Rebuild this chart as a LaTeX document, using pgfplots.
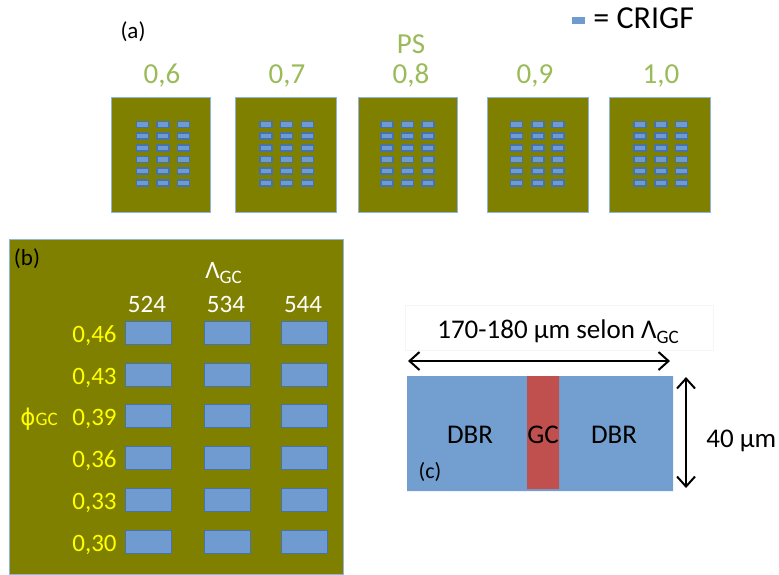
\documentclass[border=0pt]{standalone}
\usepackage{pgfplots}
\pgfplotsset{compat=1.18}
\usepackage{fontspec}
\setmainfont{Carlito}
\newfontfamily\djv{DejaVu Sans}
\usetikzlibrary{arrows.meta}
\definecolor{olivebg}{RGB}{128,128,0}
\definecolor{boxedge}{RGB}{141,180,226}
\definecolor{psgreen}{RGB}{155,187,89}
\definecolor{crblue}{RGB}{111,155,208}
\definecolor{credge}{RGB}{70,115,170}
\definecolor{cblue}{RGB}{114,159,207}
\definecolor{gcred}{RGB}{192,80,77}
\definecolor{yel}{RGB}{255,255,0}
\newcommand{\fs}[1]{\fontsize{#1}{#1}\selectfont}
\pgfdeclareplotmark{crigf}{\pgfpathrectangle{\pgfpoint{-3pt}{-1.5pt}}{\pgfpoint{6pt}{3pt}}\pgfusepathqfillstroke}
\pgfdeclareplotmark{crigfleg}{\pgfpathrectangle{\pgfpoint{-3.25pt}{-1.75pt}}{\pgfpoint{6.5pt}{3.5pt}}\pgfusepathqfill}
\pgfdeclareplotmark{crigfb}{\pgfpathrectangle{\pgfpoint{-11.5pt}{-5.75pt}}{\pgfpoint{23pt}{11.5pt}}\pgfusepathqfillstroke}
\begin{document}
\begin{tikzpicture}
\begin{axis}[hide axis, scale only axis, width=389.5pt, height=287pt,
  xmin=0, xmax=779, ymin=0, ymax=574, y dir=reverse, clip=false]
\path (axis cs:0,0) rectangle (axis cs:779,574);
% ---------- panel (a) ----------
\addplot[fill=olivebg, draw=boxedge, line width=0.5pt] coordinates {(111,97) (210,97) (210,212) (111,212) (111,97)};
\addplot[fill=olivebg, draw=boxedge, line width=0.5pt] coordinates {(235,97) (336,97) (336,212) (235,212) (235,97)};
\addplot[fill=olivebg, draw=boxedge, line width=0.5pt] coordinates {(358,97) (457,97) (457,212) (358,212) (358,97)};
\addplot[fill=olivebg, draw=boxedge, line width=0.5pt] coordinates {(487,97) (588,97) (588,212) (487,212) (487,97)};
\addplot[fill=olivebg, draw=boxedge, line width=0.5pt] coordinates {(609,97) (710,97) (710,212) (609,212) (609,97)};
\pgfplotsset{crstyle/.style={only marks, mark=crigf, mark options={fill=crblue, draw=credge, line width=0.6pt}}}
\addplot[crstyle] coordinates {
(142.5,124.5) (163,124.5) (183.5,124.5)
(142.5,136) (163,136) (183.5,136)
(142.5,148) (163,148) (183.5,148)
(142.5,159.5) (163,159.5) (183.5,159.5)
(142.5,171) (163,171) (183.5,171)
(142.5,183) (163,183) (183.5,183)};
\addplot[crstyle] coordinates {
(266,124.5) (286.5,124.5) (307.5,124.5)
(266,136) (286.5,136) (307.5,136)
(266,148) (286.5,148) (307.5,148)
(266,159.5) (286.5,159.5) (307.5,159.5)
(266,171) (286.5,171) (307.5,171)
(266,183) (286.5,183) (307.5,183)};
\addplot[crstyle] coordinates {
(387,124.5) (407.5,124.5) (428,124.5)
(387,136) (407.5,136) (428,136)
(387,148) (407.5,148) (428,148)
(387,159.5) (407.5,159.5) (428,159.5)
(387,171) (407.5,171) (428,171)
(387,183) (407.5,183) (428,183)};
\addplot[crstyle] coordinates {
(516.5,124.5) (538,124.5) (558,124.5)
(516.5,136) (538,136) (558,136)
(516.5,148) (538,148) (558,148)
(516.5,159.5) (538,159.5) (558,159.5)
(516.5,171) (538,171) (558,171)
(516.5,183) (538,183) (558,183)};
\addplot[crstyle] coordinates {
(640,124.5) (661,124.5) (681.5,124.5)
(640,136) (661,136) (681.5,136)
(640,148) (661,148) (681.5,148)
(640,159.5) (661,159.5) (681.5,159.5)
(640,171) (661,171) (681.5,171)
(640,183) (661,183) (681.5,183)};
\addplot[only marks, mark=crigfleg, mark options={fill=crblue}] coordinates {(578.5,20.5)};
\node[anchor=base west, inner sep=0, font=\fs{16}] at (axis cs:593,28) {= CRIGF};
\node[anchor=base, inner sep=0, font=\fs{11.5}] at (axis cs:133,38) {(a)};
\node[anchor=base, inner sep=0, font=\fs{14.5}, text=psgreen] at (axis cs:411,53) {PS};
\node[anchor=base, inner sep=0, font=\fs{14.5}, text=psgreen] at (axis cs:162,83) {0,6};
\node[anchor=base, inner sep=0, font=\fs{14.5}, text=psgreen] at (axis cs:287,83) {0,7};
\node[anchor=base, inner sep=0, font=\fs{14.5}, text=psgreen] at (axis cs:411,83) {0,8};
\node[anchor=base, inner sep=0, font=\fs{14.5}, text=psgreen] at (axis cs:535,83) {0,9};
\node[anchor=base, inner sep=0, font=\fs{14.5}, text=psgreen] at (axis cs:661,83) {1,0};
% ---------- panel (b) ----------
\addplot[fill=olivebg, draw=boxedge, line width=0.5pt] coordinates {(9,239) (343,239) (343,574) (9,574) (9,239)};
\addplot[only marks, mark=crigfb, mark options={fill=crblue, draw=credge, line width=0.4pt}] coordinates {
(148,332.5) (227,332.5) (304,332.5)
(148,374.5) (227,374.5) (304,374.5)
(148,415.5) (227,415.5) (304,415.5)
(148,458) (227,458) (304,458)
(148,499.5) (227,499.5) (304,499.5)
(148,541.5) (227,541.5) (304,541.5)};
\node[anchor=base, inner sep=0, font=\fs{11.5}] at (axis cs:27,265) {(b)};
\node[anchor=base west, inner sep=0, font=\fs{12.5}, text=white] at (axis cs:205,278) {Λ\raisebox{-2.5pt}{\fs{9.5}GC}};
\node[anchor=base, inner sep=0, font=\fs{12.5}, text=white] at (axis cs:147,312) {524};
\node[anchor=base, inner sep=0, font=\fs{12.5}, text=white] at (axis cs:226,312) {534};
\node[anchor=base, inner sep=0, font=\fs{12.5}, text=white] at (axis cs:303,312) {544};
\node[anchor=base east, inner sep=0, font=\fs{12.5}, text=yel] at (axis cs:117,342) {0,46};
\node[anchor=base east, inner sep=0, font=\fs{12.5}, text=yel] at (axis cs:117,384) {0,43};
\node[anchor=base east, inner sep=0, font=\fs{12.5}, text=yel] at (axis cs:117,425) {0,39};
\node[anchor=base east, inner sep=0, font=\fs{12.5}, text=yel] at (axis cs:117,467.5) {0,36};
\node[anchor=base east, inner sep=0, font=\fs{12.5}, text=yel] at (axis cs:117,509) {0,33};
\node[anchor=base east, inner sep=0, font=\fs{12.5}, text=yel] at (axis cs:117,551) {0,30};
\node[anchor=base west, inner sep=0, font=\fs{12.5}, text=yel] at (axis cs:20,425) {{\djv\fs{11.5}ϕ}{\fs{9.5}GC}};
% ---------- panel (c) ----------
\addplot[draw=black!4, fill=white, line width=0.5pt] coordinates {(405,305) (713,305) (713,350) (405,350) (405,305)};
\node[anchor=base, inner sep=0, font=\fs{13.5}] at (axis cs:558,338) {170-180 µm selon Λ\raisebox{-2.5pt}{\fs{9.5}GC}};
\addplot[black, line width=1pt, {Straight Barb[length=5pt,width=9pt]}-{Straight Barb[length=5pt,width=9pt]}] coordinates {(408,361) (670,361)};
\addplot[fill=cblue, draw=none] coordinates {(407,376) (673,376) (673,491) (407,491) (407,376)};
\addplot[fill=gcred, draw=none] coordinates {(527,376) (559,376) (559,489) (527,489) (527,376)};
\addplot[black, line width=1pt, {Straight Barb[length=5pt,width=9pt]}-{Straight Barb[length=5pt,width=9pt]}] coordinates {(686,377) (686,488)};
\node[anchor=base, inner sep=0, font=\fs{13.5}] at (axis cs:470,443) {DBR};
\node[anchor=base, inner sep=0, font=\fs{13.5}] at (axis cs:543,443) {GC};
\node[anchor=base, inner sep=0, font=\fs{13.5}] at (axis cs:614,443) {DBR};
\node[anchor=base, inner sep=0, font=\fs{11}] at (axis cs:430,478) {(c)};
\node[anchor=base west, inner sep=0, font=\fs{13.5}] at (axis cs:706,447) {40 µm};
\end{axis}
\end{tikzpicture}
\end{document}
